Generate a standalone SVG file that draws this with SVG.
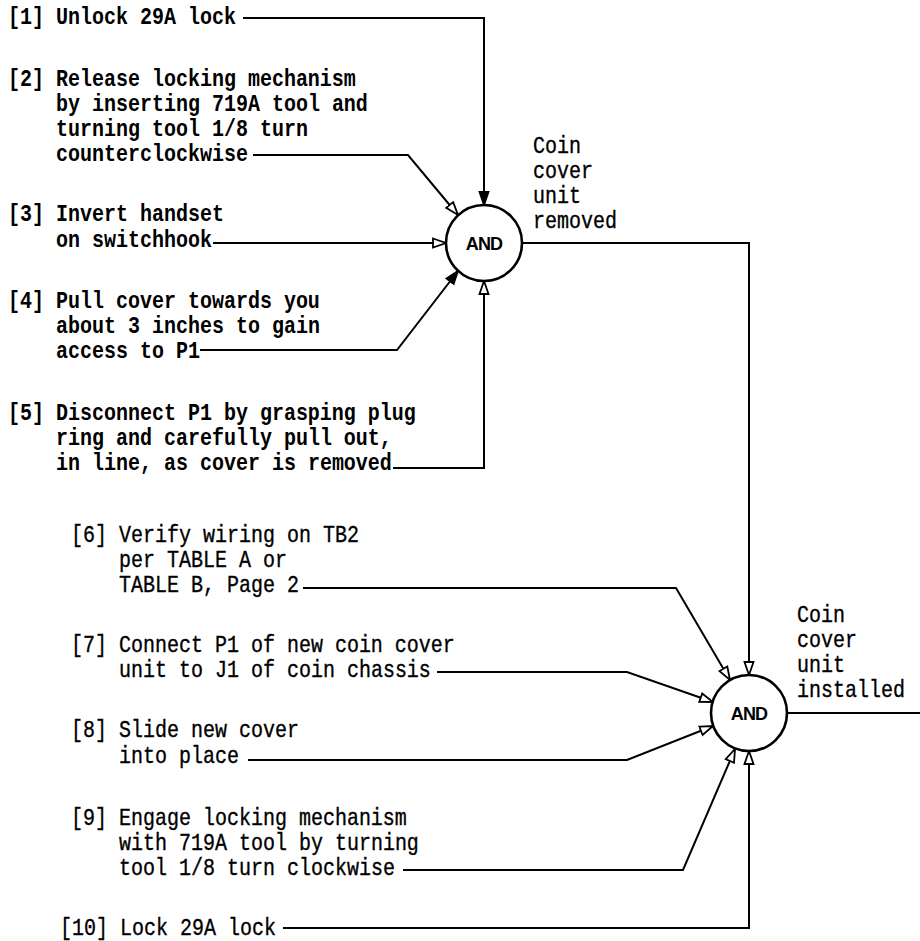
<svg xmlns="http://www.w3.org/2000/svg" width="920" height="941" viewBox="0 0 920 941">
<style>
text{font-family:"Liberation Mono","DejaVu Sans Mono",monospace;font-size:24px;fill:#000}
.b{font-weight:bold}
.r{stroke:#000;stroke-width:0.35px}
.gate{fill:#fff;stroke:#000;stroke-width:2.6}
.gl{font-family:"Liberation Sans",Arial,sans-serif;font-weight:bold;font-size:18px;letter-spacing:-0.8px;text-anchor:middle}
.c{fill:none;stroke:#000;stroke-width:2}
.co{marker-end:url(#ao)}
.cf{marker-end:url(#af)}
</style>
<defs>
<marker id="ao" markerUnits="userSpaceOnUse" markerWidth="18" markerHeight="14" refX="14" refY="6" orient="auto"><path d="M1,1.5 L14,6 L1,10.5 z" fill="#fff" stroke="#000" stroke-width="1.8"/></marker>
<marker id="af" markerUnits="userSpaceOnUse" markerWidth="18" markerHeight="14" refX="14" refY="6" orient="auto"><path d="M1,1.5 L14,6 L1,10.5 z" fill="#000" stroke="#000" stroke-width="1.8"/></marker>
</defs>
<rect width="920" height="941" fill="#fff"/>
<g id="connectors">
<polyline class="c cf" points="243,18 484,18 484,205"/>
<polyline class="c co" points="253,155 408,155 458,215"/>
<polyline class="c co" points="213,243 446,243"/>
<polyline class="c cf" points="200,350 397,350 458,271"/>
<polyline class="c co" points="393,468 484,468 484,281"/>
<polyline class="c co" points="522,243 749,243 749,675"/>
<polyline class="c co" points="303,588 676,588 730,680"/>
<polyline class="c co" points="437,672 627,672 713,702"/>
<polyline class="c co" points="248,760 627,760 713,726"/>
<polyline class="c co" points="403,870 683,870 735,749"/>
<polyline class="c co" points="283,928 749,928 749,751"/>
<polyline class="c" points="787,713 920,713"/>
</g>
<g id="step1"><text class="b" transform="translate(8,0) scale(0.8333,1)"><tspan x="0" y="24">[1] Unlock 29A lock</tspan></text></g>
<g id="step2"><text class="b" transform="translate(8,0) scale(0.8333,1)"><tspan x="0" y="86">[2] Release locking mechanism</tspan><tspan x="57.6" y="111">by inserting 719A tool and</tspan><tspan x="57.6" y="136">turning tool 1/8 turn</tspan><tspan x="57.6" y="161">counterclockwise</tspan></text></g>
<g id="step3"><text class="b" transform="translate(8,0) scale(0.8333,1)"><tspan x="0" y="221">[3] Invert handset</tspan><tspan x="57.6" y="247">on switchhook</tspan></text></g>
<g id="step4"><text class="b" transform="translate(8,0) scale(0.8333,1)"><tspan x="0" y="308">[4] Pull cover towards you</tspan><tspan x="57.6" y="333">about 3 inches to gain</tspan><tspan x="57.6" y="358">access to P1</tspan></text></g>
<g id="step5"><text class="b" transform="translate(8,0) scale(0.8333,1)"><tspan x="0" y="420">[5] Disconnect P1 by grasping plug</tspan><tspan x="57.6" y="445">ring and carefully pull out,</tspan><tspan x="57.6" y="470">in line, as cover is removed</tspan></text></g>
<g id="gate1"><circle class="gate" cx="484" cy="243" r="38"/><text class="gl" x="484" y="250">AND</text></g>
<g id="result1"><text class="r" transform="translate(533,0) scale(0.8333,1)"><tspan x="0" y="153">Coin</tspan><tspan x="0" y="178">cover</tspan><tspan x="0" y="203">unit</tspan><tspan x="0" y="228">removed</tspan></text></g>
<g id="step6"><text class="r" transform="translate(71,0) scale(0.8333,1)"><tspan x="0" y="542">[6] Verify wiring on TB2</tspan><tspan x="57.6" y="567">per TABLE A or</tspan><tspan x="57.6" y="592">TABLE B, Page 2</tspan></text></g>
<g id="step7"><text class="r" transform="translate(71,0) scale(0.8333,1)"><tspan x="0" y="652">[7] Connect P1 of new coin cover</tspan><tspan x="57.6" y="677">unit to J1 of coin chassis</tspan></text></g>
<g id="step8"><text class="r" transform="translate(71,0) scale(0.8333,1)"><tspan x="0" y="737">[8] Slide new cover</tspan><tspan x="57.6" y="763">into place</tspan></text></g>
<g id="step9"><text class="r" transform="translate(71,0) scale(0.8333,1)"><tspan x="0" y="825">[9] Engage locking mechanism</tspan><tspan x="57.6" y="850">with 719A tool by turning</tspan><tspan x="57.6" y="875">tool 1/8 turn clockwise</tspan></text></g>
<g id="step10"><text class="r" transform="translate(60,0) scale(0.8333,1)"><tspan x="0" y="935">[10] Lock 29A lock</tspan></text></g>
<g id="gate2"><circle class="gate" cx="749" cy="713" r="38"/><text class="gl" x="749" y="720">AND</text></g>
<g id="result2"><text class="r" transform="translate(797,0) scale(0.8333,1)"><tspan x="0" y="622">Coin</tspan><tspan x="0" y="647">cover</tspan><tspan x="0" y="672">unit</tspan><tspan x="0" y="697">installed</tspan></text></g>
</svg>
